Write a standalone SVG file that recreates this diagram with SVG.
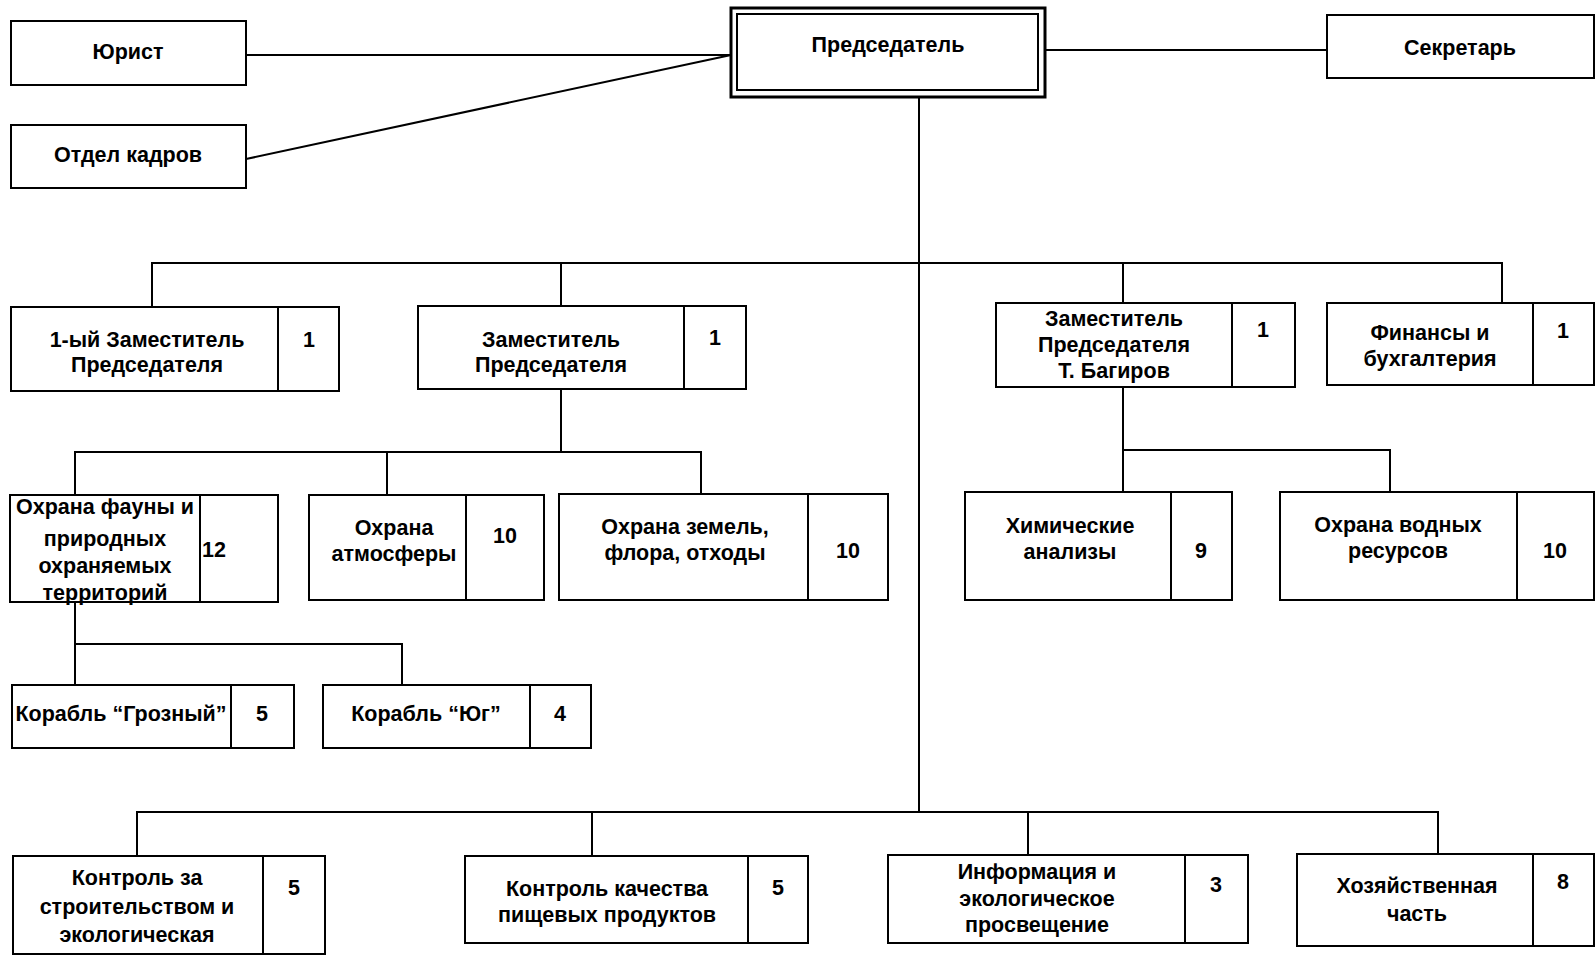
<svg xmlns="http://www.w3.org/2000/svg" width="1596" height="956" viewBox="0 0 1596 956">
<style>
.b{fill:#fff;stroke:#000;stroke-width:2}
.d{stroke:#000;stroke-width:2}
.t{font-family:"Liberation Sans",Arial,sans-serif;font-size:21.5px;font-weight:bold;fill:#000;text-anchor:middle}
.l{text-anchor:start}
.c line,.c path{stroke:#000;stroke-width:2;fill:none}
</style>
<rect width="1596" height="956" fill="#fff"/>
<g class="c" id="connectors">
<line x1="246" y1="55" x2="731" y2="55"/>
<line x1="246" y1="159" x2="731" y2="55"/>
<line x1="1045" y1="50" x2="1327" y2="50"/>
<line x1="919" y1="97" x2="919" y2="812"/>
<path d="M152 307V263H1502V303M561 263V306M1123 263V303"/>
<path d="M561 389V452M75 495V452H701V494M387 452V495"/>
<path d="M75 602V644H402V685M75 644V685"/>
<path d="M1123 387V450H1390V492M1123 450V492"/>
<path d="M137 856V812H1438V854M592 812V856M1028 812V855"/>
</g>
<g id="chairman">
<rect x="731" y="8" width="314" height="89" fill="#fff" stroke="#000" stroke-width="3"/>
<rect x="737" y="14" width="301" height="76" fill="none" stroke="#000" stroke-width="2"/>
<text class="t" x="888" y="52">Председатель</text>
</g>
<g id="lawyer">
<rect class="b" x="11" y="21" width="235" height="64"/>
<text class="t" x="128" y="59">Юрист</text>
</g>
<g id="hr">
<rect class="b" x="11" y="125" width="235" height="63"/>
<text class="t" x="128" y="162">Отдел кадров</text>
</g>
<g id="secretary">
<rect class="b" x="1327" y="15" width="267" height="63"/>
<text class="t" x="1460" y="55">Секретарь</text>
</g>
<g id="deputy1">
<rect class="b" x="11" y="307" width="328" height="84"/>
<line class="d" x1="278" y1="307" x2="278" y2="391"/>
<text class="t" x="147" y="347">1-ый Заместитель</text>
<text class="t" x="147" y="372">Председателя</text>
<text class="t" x="309" y="347">1</text>
</g>
<g id="deputy2">
<rect class="b" x="418" y="306" width="328" height="83"/>
<line class="d" x1="684" y1="306" x2="684" y2="389"/>
<text class="t" x="551" y="347">Заместитель</text>
<text class="t" x="551" y="372">Председателя</text>
<text class="t" x="715" y="345">1</text>
</g>
<g id="deputy3">
<rect class="b" x="996" y="303" width="299" height="84"/>
<line class="d" x1="1232" y1="303" x2="1232" y2="387"/>
<text class="t" x="1114" y="326">Заместитель</text>
<text class="t" x="1114" y="352">Председателя</text>
<text class="t" x="1114" y="378">Т. Багиров</text>
<text class="t" x="1263" y="337">1</text>
</g>
<g id="finance">
<rect class="b" x="1327" y="303" width="267" height="82"/>
<line class="d" x1="1533" y1="303" x2="1533" y2="385"/>
<text class="t" x="1430" y="340">Финансы и</text>
<text class="t" x="1430" y="366">бухгалтерия</text>
<text class="t" x="1563" y="338">1</text>
</g>
<g id="fauna">
<rect class="b" x="10" y="495" width="268" height="107"/>
<line class="d" x1="200" y1="495" x2="200" y2="602"/>
<text class="t" x="105" y="514">Охрана фауны и</text>
<text class="t" x="105" y="546">природных</text>
<text class="t" x="105" y="573">охраняемых</text>
<text class="t" x="105" y="600">территорий</text>
<text class="t l" x="202" y="557">12</text>
</g>
<g id="atmosphere">
<rect class="b" x="309" y="495" width="235" height="105"/>
<line class="d" x1="466" y1="495" x2="466" y2="600"/>
<text class="t" x="394" y="535">Охрана</text>
<text class="t" x="394" y="561">атмосферы</text>
<text class="t" x="505" y="543">10</text>
</g>
<g id="land">
<rect class="b" x="559" y="494" width="329" height="106"/>
<line class="d" x1="808" y1="494" x2="808" y2="600"/>
<text class="t" x="685" y="534">Охрана земель,</text>
<text class="t" x="685" y="560">флора, отходы</text>
<text class="t" x="848" y="558">10</text>
</g>
<g id="chemistry">
<rect class="b" x="965" y="492" width="267" height="108"/>
<line class="d" x1="1171" y1="492" x2="1171" y2="600"/>
<text class="t" x="1070" y="533">Химические</text>
<text class="t" x="1070" y="559">анализы</text>
<text class="t" x="1201" y="558">9</text>
</g>
<g id="water">
<rect class="b" x="1280" y="492" width="314" height="108"/>
<line class="d" x1="1517" y1="492" x2="1517" y2="600"/>
<text class="t" x="1398" y="532">Охрана водных</text>
<text class="t" x="1398" y="558">ресурсов</text>
<text class="t" x="1555" y="558">10</text>
</g>
<g id="ship1">
<rect class="b" x="12" y="685" width="282" height="63"/>
<line class="d" x1="231" y1="685" x2="231" y2="748"/>
<text class="t" x="121" y="721">Корабль “Грозный”</text>
<text class="t" x="262" y="721">5</text>
</g>
<g id="ship2">
<rect class="b" x="323" y="685" width="268" height="63"/>
<line class="d" x1="530" y1="685" x2="530" y2="748"/>
<text class="t" x="426" y="721">Корабль “Юг”</text>
<text class="t" x="560" y="721">4</text>
</g>
<g id="construction">
<rect class="b" x="13" y="856" width="312" height="98"/>
<line class="d" x1="263" y1="856" x2="263" y2="954"/>
<text class="t" x="137" y="885">Контроль за</text>
<text class="t" x="137" y="914">строительством и</text>
<text class="t" x="137" y="942">экологическая</text>
<text class="t" x="294" y="895">5</text>
</g>
<g id="food">
<rect class="b" x="465" y="856" width="343" height="87"/>
<line class="d" x1="748" y1="856" x2="748" y2="943"/>
<text class="t" x="607" y="896">Контроль качества</text>
<text class="t" x="607" y="922">пищевых продуктов</text>
<text class="t" x="778" y="895">5</text>
</g>
<g id="info">
<rect class="b" x="888" y="855" width="360" height="88"/>
<line class="d" x1="1185" y1="855" x2="1185" y2="943"/>
<text class="t" x="1037" y="879">Информация и</text>
<text class="t" x="1037" y="906">экологическое</text>
<text class="t" x="1037" y="932">просвещение</text>
<text class="t" x="1216" y="892">3</text>
</g>
<g id="household">
<rect class="b" x="1297" y="854" width="297" height="92"/>
<line class="d" x1="1533" y1="854" x2="1533" y2="946"/>
<text class="t" x="1417" y="893">Хозяйственная</text>
<text class="t" x="1417" y="921">часть</text>
<text class="t" x="1563" y="889">8</text>
</g>
</svg>
